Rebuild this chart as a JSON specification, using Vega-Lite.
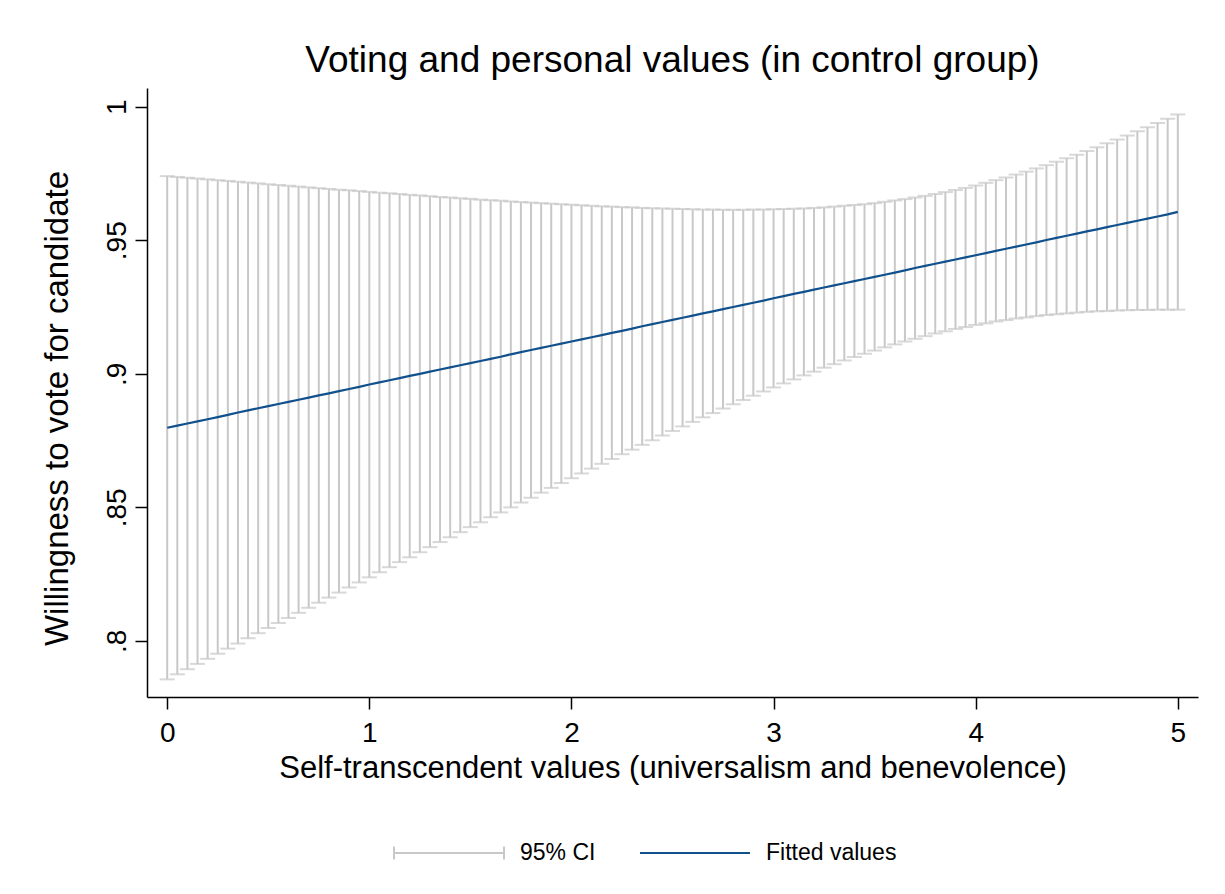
{
  "$schema": "https://vega.github.io/schema/vega-lite/v6.json",
  "width": 1051,
  "height": 609,
  "autosize": {"type": "none"},
  "padding": {"left": 147, "top": 88, "right": 27, "bottom": 197},
  "background": "white",
  "config": {"view": {"stroke": null}, "font": "Liberation Sans"},
  "title": {"text": "Voting and personal values (in control group)", "fontSize": 37, "font": "Liberation Sans", "fontWeight": "normal", "color": "black", "anchor": "middle", "frame": "group", "offset": 8},
  "data": {"values": [
    {"x": 0, "lo": 0.7856, "hi": 0.9740, "fit": 0.8798},
    {"x": 0.05, "lo": 0.7875, "hi": 0.9737, "fit": 0.8806},
    {"x": 0.1, "lo": 0.7894, "hi": 0.9734, "fit": 0.8814},
    {"x": 0.15, "lo": 0.7914, "hi": 0.9731, "fit": 0.8822},
    {"x": 0.2, "lo": 0.7933, "hi": 0.9728, "fit": 0.8830},
    {"x": 0.25, "lo": 0.7952, "hi": 0.9725, "fit": 0.8838},
    {"x": 0.3, "lo": 0.7971, "hi": 0.9722, "fit": 0.8846},
    {"x": 0.35, "lo": 0.7990, "hi": 0.9719, "fit": 0.8855},
    {"x": 0.4, "lo": 0.8010, "hi": 0.9716, "fit": 0.8863},
    {"x": 0.45, "lo": 0.8029, "hi": 0.9713, "fit": 0.8871},
    {"x": 0.5, "lo": 0.8048, "hi": 0.9710, "fit": 0.8879},
    {"x": 0.55, "lo": 0.8067, "hi": 0.9707, "fit": 0.8887},
    {"x": 0.6, "lo": 0.8086, "hi": 0.9704, "fit": 0.8895},
    {"x": 0.65, "lo": 0.8105, "hi": 0.9701, "fit": 0.8903},
    {"x": 0.7, "lo": 0.8124, "hi": 0.9698, "fit": 0.8911},
    {"x": 0.75, "lo": 0.8143, "hi": 0.9695, "fit": 0.8919},
    {"x": 0.8, "lo": 0.8162, "hi": 0.9692, "fit": 0.8927},
    {"x": 0.85, "lo": 0.8181, "hi": 0.9689, "fit": 0.8935},
    {"x": 0.9, "lo": 0.8200, "hi": 0.9687, "fit": 0.8943},
    {"x": 0.95, "lo": 0.8219, "hi": 0.9684, "fit": 0.8951},
    {"x": 1, "lo": 0.8238, "hi": 0.9681, "fit": 0.8960},
    {"x": 1.05, "lo": 0.8257, "hi": 0.9678, "fit": 0.8968},
    {"x": 1.1, "lo": 0.8276, "hi": 0.9676, "fit": 0.8976},
    {"x": 1.15, "lo": 0.8295, "hi": 0.9673, "fit": 0.8984},
    {"x": 1.2, "lo": 0.8313, "hi": 0.9670, "fit": 0.8992},
    {"x": 1.25, "lo": 0.8332, "hi": 0.9668, "fit": 0.9000},
    {"x": 1.3, "lo": 0.8351, "hi": 0.9665, "fit": 0.9008},
    {"x": 1.35, "lo": 0.8370, "hi": 0.9662, "fit": 0.9016},
    {"x": 1.4, "lo": 0.8388, "hi": 0.9660, "fit": 0.9024},
    {"x": 1.45, "lo": 0.8407, "hi": 0.9657, "fit": 0.9032},
    {"x": 1.5, "lo": 0.8426, "hi": 0.9655, "fit": 0.9040},
    {"x": 1.55, "lo": 0.8444, "hi": 0.9652, "fit": 0.9048},
    {"x": 1.6, "lo": 0.8463, "hi": 0.9650, "fit": 0.9056},
    {"x": 1.65, "lo": 0.8481, "hi": 0.9648, "fit": 0.9064},
    {"x": 1.7, "lo": 0.8500, "hi": 0.9645, "fit": 0.9073},
    {"x": 1.75, "lo": 0.8518, "hi": 0.9643, "fit": 0.9081},
    {"x": 1.8, "lo": 0.8536, "hi": 0.9641, "fit": 0.9089},
    {"x": 1.85, "lo": 0.8555, "hi": 0.9639, "fit": 0.9097},
    {"x": 1.9, "lo": 0.8573, "hi": 0.9637, "fit": 0.9105},
    {"x": 1.95, "lo": 0.8591, "hi": 0.9635, "fit": 0.9113},
    {"x": 2, "lo": 0.8609, "hi": 0.9633, "fit": 0.9121},
    {"x": 2.05, "lo": 0.8627, "hi": 0.9631, "fit": 0.9129},
    {"x": 2.1, "lo": 0.8645, "hi": 0.9629, "fit": 0.9137},
    {"x": 2.15, "lo": 0.8663, "hi": 0.9627, "fit": 0.9145},
    {"x": 2.2, "lo": 0.8681, "hi": 0.9626, "fit": 0.9153},
    {"x": 2.25, "lo": 0.8699, "hi": 0.9624, "fit": 0.9161},
    {"x": 2.3, "lo": 0.8716, "hi": 0.9623, "fit": 0.9169},
    {"x": 2.35, "lo": 0.8734, "hi": 0.9621, "fit": 0.9178},
    {"x": 2.4, "lo": 0.8751, "hi": 0.9620, "fit": 0.9186},
    {"x": 2.45, "lo": 0.8769, "hi": 0.9619, "fit": 0.9194},
    {"x": 2.5, "lo": 0.8786, "hi": 0.9618, "fit": 0.9202},
    {"x": 2.55, "lo": 0.8803, "hi": 0.9617, "fit": 0.9210},
    {"x": 2.6, "lo": 0.8820, "hi": 0.9616, "fit": 0.9218},
    {"x": 2.65, "lo": 0.8837, "hi": 0.9615, "fit": 0.9226},
    {"x": 2.7, "lo": 0.8853, "hi": 0.9615, "fit": 0.9234},
    {"x": 2.75, "lo": 0.8870, "hi": 0.9614, "fit": 0.9242},
    {"x": 2.8, "lo": 0.8886, "hi": 0.9614, "fit": 0.9250},
    {"x": 2.85, "lo": 0.8902, "hi": 0.9614, "fit": 0.9258},
    {"x": 2.9, "lo": 0.8918, "hi": 0.9615, "fit": 0.9266},
    {"x": 2.95, "lo": 0.8934, "hi": 0.9615, "fit": 0.9274},
    {"x": 3, "lo": 0.8949, "hi": 0.9616, "fit": 0.9283},
    {"x": 3.05, "lo": 0.8964, "hi": 0.9617, "fit": 0.9291},
    {"x": 3.1, "lo": 0.8979, "hi": 0.9618, "fit": 0.9299},
    {"x": 3.15, "lo": 0.8994, "hi": 0.9619, "fit": 0.9307},
    {"x": 3.2, "lo": 0.9008, "hi": 0.9621, "fit": 0.9315},
    {"x": 3.25, "lo": 0.9023, "hi": 0.9623, "fit": 0.9323},
    {"x": 3.3, "lo": 0.9036, "hi": 0.9626, "fit": 0.9331},
    {"x": 3.35, "lo": 0.9050, "hi": 0.9629, "fit": 0.9339},
    {"x": 3.4, "lo": 0.9063, "hi": 0.9632, "fit": 0.9347},
    {"x": 3.45, "lo": 0.9075, "hi": 0.9635, "fit": 0.9355},
    {"x": 3.5, "lo": 0.9087, "hi": 0.9639, "fit": 0.9363},
    {"x": 3.55, "lo": 0.9099, "hi": 0.9644, "fit": 0.9371},
    {"x": 3.6, "lo": 0.9110, "hi": 0.9649, "fit": 0.9379},
    {"x": 3.65, "lo": 0.9121, "hi": 0.9654, "fit": 0.9387},
    {"x": 3.7, "lo": 0.9131, "hi": 0.9660, "fit": 0.9396},
    {"x": 3.75, "lo": 0.9141, "hi": 0.9666, "fit": 0.9404},
    {"x": 3.8, "lo": 0.9151, "hi": 0.9673, "fit": 0.9412},
    {"x": 3.85, "lo": 0.9159, "hi": 0.9680, "fit": 0.9420},
    {"x": 3.9, "lo": 0.9168, "hi": 0.9688, "fit": 0.9428},
    {"x": 3.95, "lo": 0.9175, "hi": 0.9696, "fit": 0.9436},
    {"x": 4, "lo": 0.9183, "hi": 0.9705, "fit": 0.9444},
    {"x": 4.05, "lo": 0.9189, "hi": 0.9715, "fit": 0.9452},
    {"x": 4.1, "lo": 0.9196, "hi": 0.9725, "fit": 0.9460},
    {"x": 4.15, "lo": 0.9201, "hi": 0.9735, "fit": 0.9468},
    {"x": 4.2, "lo": 0.9207, "hi": 0.9746, "fit": 0.9476},
    {"x": 4.25, "lo": 0.9211, "hi": 0.9757, "fit": 0.9484},
    {"x": 4.3, "lo": 0.9216, "hi": 0.9769, "fit": 0.9492},
    {"x": 4.35, "lo": 0.9220, "hi": 0.9781, "fit": 0.9501},
    {"x": 4.4, "lo": 0.9223, "hi": 0.9794, "fit": 0.9509},
    {"x": 4.45, "lo": 0.9226, "hi": 0.9807, "fit": 0.9517},
    {"x": 4.5, "lo": 0.9229, "hi": 0.9820, "fit": 0.9525},
    {"x": 4.55, "lo": 0.9232, "hi": 0.9834, "fit": 0.9533},
    {"x": 4.6, "lo": 0.9234, "hi": 0.9848, "fit": 0.9541},
    {"x": 4.65, "lo": 0.9235, "hi": 0.9863, "fit": 0.9549},
    {"x": 4.7, "lo": 0.9237, "hi": 0.9877, "fit": 0.9557},
    {"x": 4.75, "lo": 0.9238, "hi": 0.9892, "fit": 0.9565},
    {"x": 4.8, "lo": 0.9239, "hi": 0.9908, "fit": 0.9573},
    {"x": 4.85, "lo": 0.9239, "hi": 0.9923, "fit": 0.9581},
    {"x": 4.9, "lo": 0.9240, "hi": 0.9939, "fit": 0.9589},
    {"x": 4.95, "lo": 0.9240, "hi": 0.9955, "fit": 0.9597},
    {"x": 5, "lo": 0.9240, "hi": 0.9971, "fit": 0.9606}
  ]},
  "encoding": {
    "x": {"field": "x", "type": "quantitative",
      "scale": {"domain": [-0.1, 5.1], "nice": false, "zero": false},
      "axis": {"title": "Self-transcendent values (universalism and benevolence)", "titleFont": "Liberation Sans", "titleFontSize": 31, "titleFontWeight": "normal", "titleColor": "black", "titlePadding": 6,
        "values": [0, 1, 2, 3, 4, 5], "format": "d", "grid": false, "labelFont": "Liberation Sans", "labelFontSize": 28, "labelColor": "black", "labelPadding": 10,
        "tickSize": 12, "tickColor": "black", "tickWidth": 1.5, "domainColor": "black", "domainWidth": 1.5}
    }
  },
  "layer": [
    {
      "mark": {"type": "rule", "strokeWidth": 2},
      "encoding": {
        "y": {"field": "lo", "type": "quantitative",
          "scale": {"domain": [0.779, 1.007], "nice": false, "zero": false},
          "axis": {"title": "Willingness to vote for candidate", "titleFont": "Liberation Sans", "titleFontSize": 33, "titleFontWeight": "normal", "titleColor": "black", "titlePadding": 29, "titleY": 320,
            "values": [0.8, 0.85, 0.9, 0.95, 1], "labelExpr": "datum.value == 1 ? '1' : replace(format(datum.value, '.2~f'), '0.', '.')",
            "grid": false, "labelAngle": -90, "labelAlign": "center", "labelBaseline": "bottom", "labelFont": "Liberation Sans", "labelFontSize": 28, "labelColor": "black", "labelPadding": 4,
            "tickSize": 12, "tickColor": "black", "tickWidth": 1.5, "domainColor": "black", "domainWidth": 1.5}
        },
        "y2": {"field": "hi"},
        "color": {"datum": "95% CI", "type": "nominal",
          "scale": {"domain": ["95% CI", "Fitted values"], "range": ["#c8c8c8", "#10508c"]},
          "legend": {"title": null, "orient": "none", "legendX": 246, "legendY": 709, "direction": "horizontal", "padding": 0,
            "labelFont": "Liberation Sans", "labelFontSize": 23, "labelColor": "black", "labelOffset": 15, "columnPadding": 40,
            "symbolType": "stroke", "symbolSize": 12100, "symbolStrokeWidth": 2,
            "encode": {"symbols": {"update": {
              "shape": {"signal": "datum.value === '95% CI' ? 'M-1,-0.12L-1,0.12M-1,0L1,0M1,-0.12L1,0.12' : 'M-1,0L1,0'"},
              "stroke": {"signal": "datum.value === '95% CI' ? '#c8c8c8' : '#10508c'"},
              "fill": {"value": "transparent"},
              "strokeWidth": {"value": 2}
            }}}
          }
        }
      }
    },
    {
      "mark": {"type": "tick", "orient": "horizontal", "color": "#c8c8c8", "thickness": 2, "size": 15},
      "encoding": {"y": {"field": "lo", "type": "quantitative"}}
    },
    {
      "mark": {"type": "tick", "orient": "horizontal", "color": "#c8c8c8", "thickness": 2, "size": 15},
      "encoding": {"y": {"field": "hi", "type": "quantitative"}}
    },
    {
      "mark": {"type": "line", "strokeWidth": 2.2},
      "encoding": {
        "y": {"field": "fit", "type": "quantitative"},
        "color": {"datum": "Fitted values", "type": "nominal"}
      }
    }
  ]
}
